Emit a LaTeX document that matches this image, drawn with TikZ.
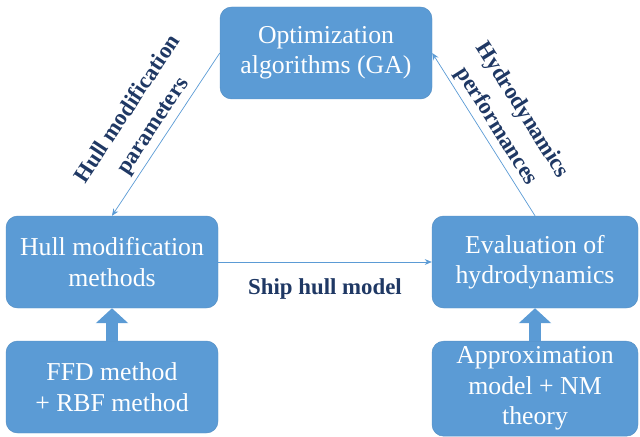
\documentclass[tikz,border=0pt]{standalone}
\usepackage{fontspec}
\setmainfont{Liberation Serif}
\usetikzlibrary{arrows.meta,positioning}
\definecolor{boxblue}{RGB}{91,155,213}
\definecolor{labelnavy}{RGB}{31,56,100}
\tikzset{blk/.style={rectangle,rounded corners=0.35cm,fill=boxblue,draw=boxblue!92!black,
    text=white,align=center,inner sep=2pt,font=\fontsize{22}{26}\selectfont,
    minimum width=6.36cm,minimum height=2.76cm}}
\tikzset{flow/.style={draw=boxblue,line width=0.6pt,-{Stealth[length=6pt,width=5pt]}}}
\tikzset{feed/.style={draw=boxblue,line width=0.36cm,-{Triangle[length=0.45cm,width=0.95cm]}}}
\tikzset{lbl/.style={text=labelnavy,font=\fontsize{19.5}{26}\selectfont\bfseries,align=center}}

\begin{document}
\begin{tikzpicture}[on grid]
        \useasboundingbox (0,0) rectangle (19.2,-13.11);
        \node[blk](opt) at (9.78,-1.59) {Optimization\\algorithms (GA)};
        \node[blk](hull) at (3.36,-7.86) {Hull modification\\methods};
        \node[blk,minimum width=6.18cm](eval)[right=12.69cm of hull] {Evaluation of\\hydrodynamics};
        \node[blk](ffd)[below=3.75cm of hull] {FFD method\\+ RBF method};
        \node[blk,minimum width=6.18cm,minimum height=2.85cm](approx)[below=3.8cm of eval]
             {Approximation\\model + NM\\theory};
        % loop between the three main steps
        \draw[flow] (opt.west) -- node[lbl,midway,sloped,above=0pt]{Hull modification\\parameters} (hull.north);
        \draw[flow] (hull.east) -- node[lbl,midway,below=0.38cm]{Ship hull model} (eval.west);
        \draw[flow] (eval.north) -- node[lbl,midway,sloped,above=0pt]{Hydrodynamics\\performances} (opt.east);
        % supporting methods
        \draw[feed] (ffd.north) -- (hull.south);
        \draw[feed] (approx.north) -- (eval.south);
      \end{tikzpicture}
\end{document}
